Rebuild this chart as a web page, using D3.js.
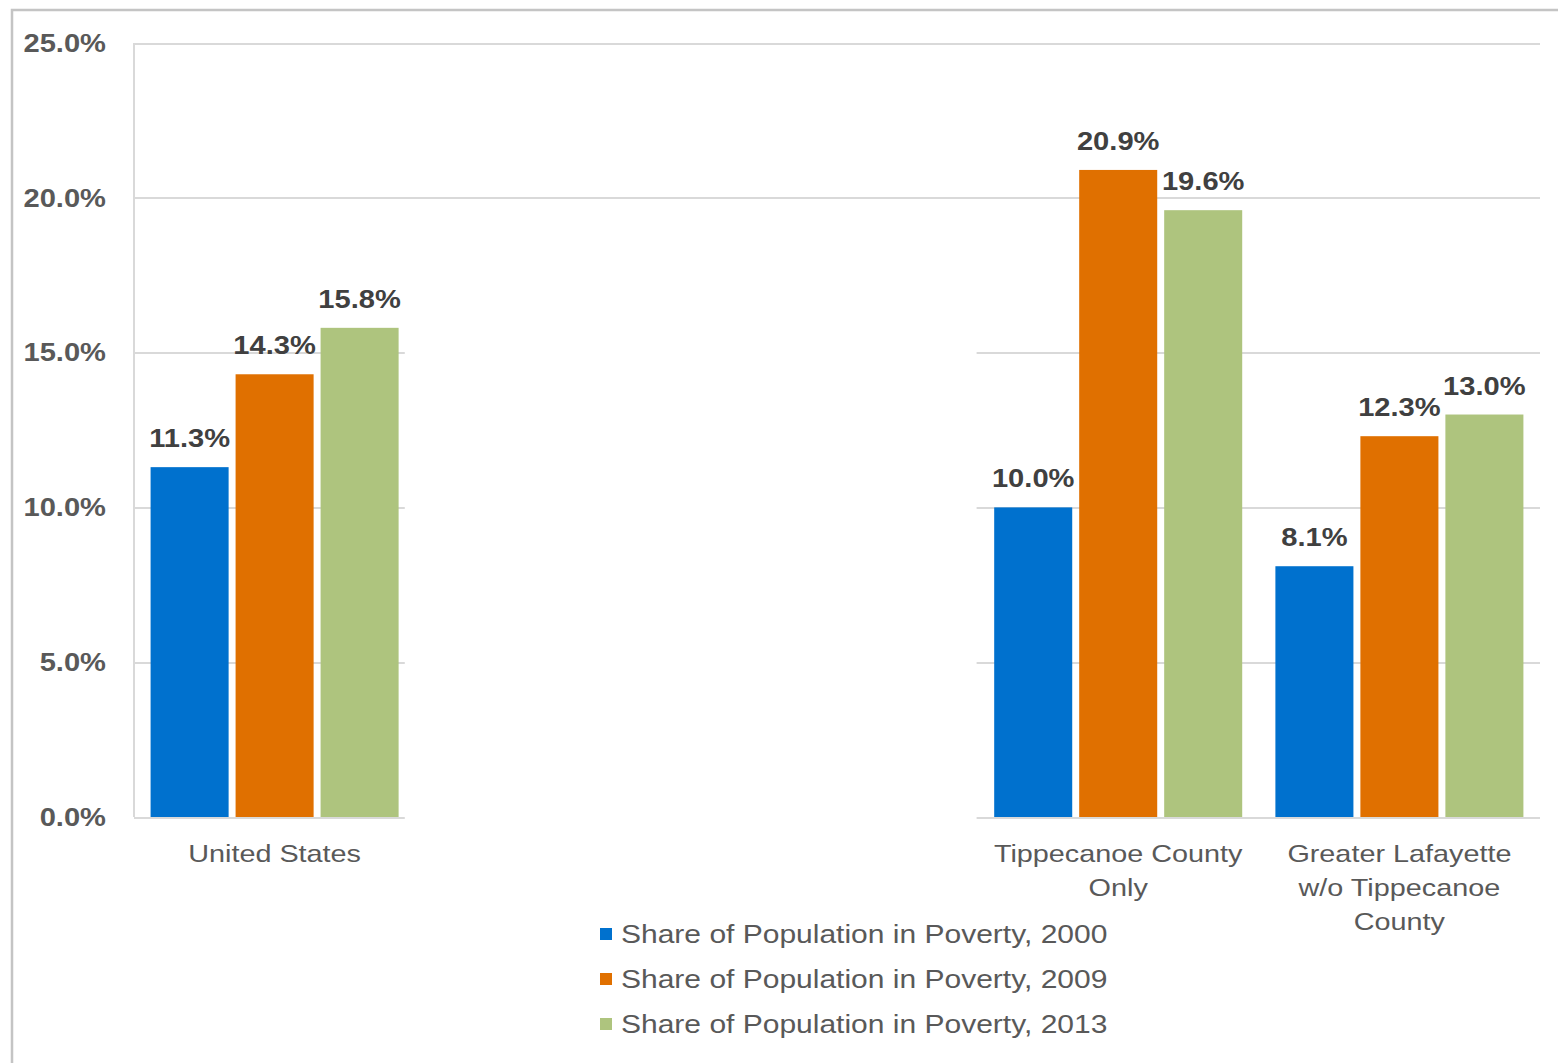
<!DOCTYPE html>
<meta charset="utf-8">
<html>
<head>
<style>
body {
  margin: 0;
  background: #fff;
  font-family: "Liberation Sans", Arial, Helvetica, sans-serif;
}
.grid line {
  stroke: #d9d9d9;
  stroke-width: 2;
  shape-rendering: crispEdges;
}
.grid path {
  stroke-width: 0;
}
</style>
</head>
<body>
<div id="my_dataviz"></div>

<script src="https://d3js.org/d3.v7.min.js"></script>
<script>

// data
var categories = ["United States", "blank1", "blank2", "Tippecanoe County Only", "Greater Lafayette w/o Tippecanoe County"];
var categoryLines = [["United States"], [], [], ["Tippecanoe County", "Only"], ["Greater Lafayette", "w/o Tippecanoe", "County"]];
var seriesNames = ["Share of Population in Poverty, 2000", "Share of Population in Poverty, 2009", "Share of Population in Poverty, 2013"];
var poverty2000 = [11.3, null, null, 10.0, 8.1];
var poverty2009 = [14.3, null, null, 20.9, 12.3];
var poverty2013 = [15.8, null, null, 19.6, 13.0];
var yTicks = [0, 5, 10, 15, 20, 25];
var colors = ["#0071CE", "#E07000", "#AEC47E"];

var allSeries = [poverty2000, poverty2009, poverty2013];

// set the dimensions and margins of the graph
var W = 1558, H = 1063;
var margin = {top: 43, right: 18, bottom: 246, left: 134};
var width = W - margin.left - margin.right,
    height = H - margin.top - margin.bottom;

var svg = d3.select("#my_dataviz")
  .append("svg")
    .attr("width", W)
    .attr("height", H);

// outer frame of the picture
svg.append("rect")
  .attr("x", 12)
  .attr("y", 10)
  .attr("width", W)
  .attr("height", H)
  .attr("fill", "none")
  .attr("stroke", "#c4c4c4")
  .attr("stroke-width", 2.5);

var g = svg.append("g")
  .attr("transform", "translate(" + margin.left + "," + margin.top + ")");

// scales
var x = d3.scaleBand()
  .domain(categories)
  .range([0, width])
  .paddingInner(0.118)
  .paddingOuter(0.059);

var xSub = d3.scaleBand()
  .domain(d3.range(allSeries.length))
  .range([0, x.bandwidth()])
  .paddingInner(0.082);

var y = d3.scaleLinear()
  .domain([0, 25])
  .range([height, 0]);

// gridlines
g.append("g")
  .attr("class", "grid")
  .call(d3.axisLeft(y)
    .tickValues(yTicks)
    .tickSize(-width)
    .tickFormat("")
  );

// left axis line
g.append("line")
  .attr("x1", 0).attr("x2", 0)
  .attr("y1", y(0)).attr("y2", y(25))
  .attr("stroke", "#d9d9d9")
  .attr("stroke-width", 2);

// white patch over the empty middle categories
var gapLeft = x("blank1") - 27;
var gapRight = x("Tippecanoe County Only") - (x.step() - x.bandwidth()) / 2 - 1;
g.append("rect")
  .attr("x", gapLeft)
  .attr("y", y(17.5))
  .attr("width", gapRight - gapLeft)
  .attr("height", height - y(17.5) + 90)
  .attr("fill", "#fff");

// y tick labels
var yAxis = g.append("g")
  .call(d3.axisLeft(y)
    .tickValues(yTicks)
    .tickSize(0)
    .tickPadding(25)
    .tickFormat(function(d) { return d.toFixed(1) + "%"; })
  );
yAxis.select(".domain").remove();
yAxis.selectAll("text")
  .attr("transform", "scale(1.12,1)")
  .style("font-family", "'Liberation Sans', Arial, sans-serif")
  .style("font-size", "26px")
  .style("font-weight", "bold")
  .attr("fill", "#595959");

// bars
var barData = [];
categories.forEach(function(c, i) {
  allSeries.forEach(function(s, j) {
    if (s[i] != null) barData.push({cat: c, series: j, value: s[i]});
  });
});

g.selectAll(".bar")
  .data(barData)
  .enter()
  .append("rect")
    .attr("class", "bar")
    .attr("x", function(d) { return x(d.cat) + xSub(d.series); })
    .attr("y", function(d) { return y(d.value); })
    .attr("width", xSub.bandwidth())
    .attr("height", function(d) { return y(0) - y(d.value); })
    .attr("fill", function(d) { return colors[d.series]; });

// value labels
g.selectAll(".lbl")
  .data(barData)
  .enter()
  .append("text")
    .attr("class", "lbl")
    .attr("transform", function(d) {
      var cx = x(d.cat) + xSub(d.series) + xSub.bandwidth() / 2;
      return "translate(" + cx + "," + (y(d.value) - 20) + ") scale(1.12,1)";
    })
    .attr("text-anchor", "middle")
    .attr("fill", "#404040")
    .style("font-size", "26px")
    .style("font-weight", "bold")
    .text(function(d) { return d.value.toFixed(1) + "%"; });

// category labels
categories.forEach(function(c, i) {
  categoryLines[i].forEach(function(line, k) {
    g.append("text")
      .attr("transform", "translate(" + (x(c) + x.bandwidth() / 2) + "," + (height + 45 + k * 34) + ") scale(1.2,1)")
      .attr("text-anchor", "middle")
      .attr("fill", "#595959")
      .style("font-size", "24px")
      .text(line);
  });
});

// legend
var legend = svg.append("g")
  .attr("transform", "translate(600,928)");

var rows = legend.selectAll(".row")
  .data(seriesNames)
  .enter()
  .append("g")
    .attr("transform", function(d, i) { return "translate(0," + (i * 45) + ")"; });

rows.append("rect")
  .attr("width", 12)
  .attr("height", 12)
  .attr("fill", function(d, i) { return colors[i]; });

rows.append("text")
  .attr("transform", "translate(21,15) scale(1.2,1)")
  .attr("fill", "#595959")
  .style("font-size", "25px")
  .text(function(d) { return d; });

</script>
</body>
</html>
